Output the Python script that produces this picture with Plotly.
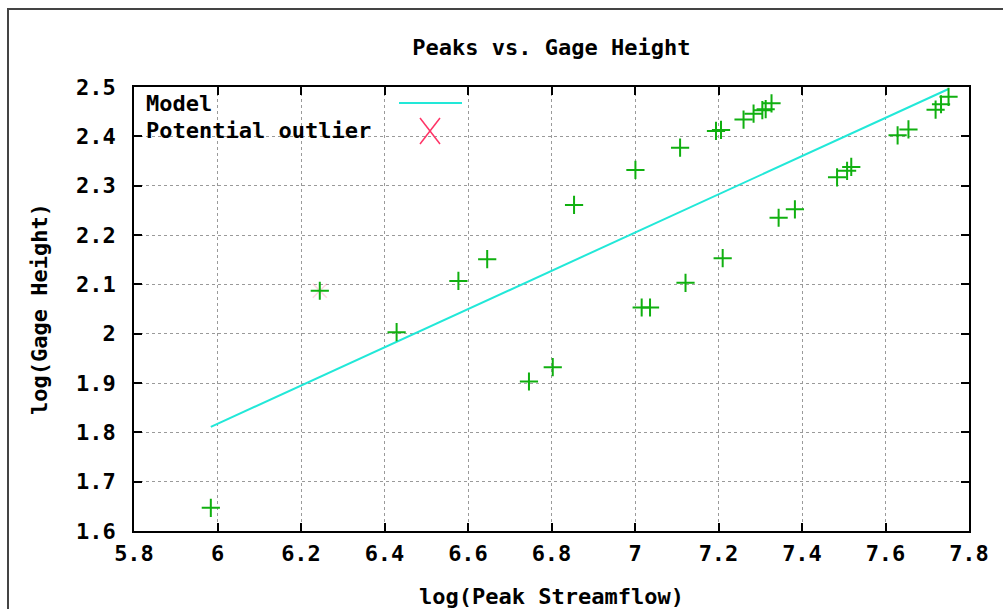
import plotly.graph_objects as go

peak_streamflow = [5.984, 6.245, 6.429, 6.577, 6.646, 6.746, 6.803, 6.854, 7.001, 7.016,
                   7.036, 7.108, 7.121, 7.194, 7.206, 7.210, 7.260, 7.284, 7.305, 7.313,
                   7.327, 7.344, 7.383, 7.484, 7.508, 7.518, 7.629, 7.655, 7.720, 7.733,
                   7.751]
gage_height = [1.647, 2.087, 2.003, 2.107, 2.151, 1.903, 1.932, 2.261, 2.332, 2.053,
               2.053, 2.377, 2.103, 2.411, 2.413, 2.153, 2.434, 2.446, 2.453, 2.455,
               2.467, 2.235, 2.252, 2.317, 2.330, 2.338, 2.402, 2.414, 2.454, 2.465,
               2.480]

# Fitted model line endpoints
model_x = [5.984, 7.751]
model_y = [1.811, 2.496]

# Potential outlier
outlier_x = [6.245]
outlier_y = [2.087]

x_ticks = [5.8, 6.0, 6.2, 6.4, 6.6, 6.8, 7.0, 7.2, 7.4, 7.6, 7.8]
x_tick_text = ["5.8", "6", "6.2", "6.4", "6.6", "6.8", "7", "7.2", "7.4", "7.6", "7.8"]
y_ticks = [1.6, 1.7, 1.8, 1.9, 2.0, 2.1, 2.2, 2.3, 2.4, 2.5]
y_tick_text = ["1.6", "1.7", "1.8", "1.9", "2", "2.1", "2.2", "2.3", "2.4", "2.5"]

FONT = "DejaVu Sans Mono"
fsize = 22

fig = go.Figure()
fig.add_trace(go.Scatter(x=outlier_x, y=outlier_y, mode="markers",
                         marker=dict(symbol="x-thin", size=14, line=dict(color="#ff3366", width=1.5)),
                         opacity=0.2, showlegend=False))
fig.add_trace(go.Scatter(x=model_x, y=model_y, mode="lines",
                         line=dict(color="#22e8d8", width=2), showlegend=False))
fig.add_trace(go.Scatter(x=peak_streamflow, y=gage_height, mode="markers",
                         marker=dict(symbol="cross-thin", size=13, line=dict(color="#10b010", width=2)),
                         showlegend=False))

ax_common = dict(showline=True, linecolor="black", linewidth=1.5, mirror="ticks",
                 ticks="inside", ticklen=8, tickcolor="black", tickwidth=1.5,
                 showgrid=True, gridcolor="#9a9a9a", griddash="dot", gridwidth=1,
                 zeroline=False, automargin=False,
                 tickfont=dict(family=FONT, size=fsize, color="black", weight="bold"))

fig.update_xaxes(range=[5.8, 7.8], tickvals=x_ticks, ticktext=x_tick_text,
                 ticklabelstandoff=2,
                 title=dict(text="log(Peak Streamflow)", standoff=26,
                            font=dict(family=FONT, size=fsize, color="black", weight="bold")),
                 **ax_common)
fig.update_yaxes(range=[1.6, 2.5], tickvals=y_ticks, ticktext=y_tick_text,
                 ticklabelstandoff=12,
                 title=dict(text="log(Gage Height)", standoff=22,
                            font=dict(family=FONT, size=fsize, color="black", weight="bold")),
                 **ax_common)

# Gnuplot-style legend (text on the left, sample on the right)
fig.add_annotation(xref="paper", yref="paper", x=0.012, y=0.962, xanchor="left", yanchor="middle",
                   text="Model", showarrow=False,
                   font=dict(family=FONT, size=fsize, color="black", weight="bold"))
fig.add_annotation(xref="paper", yref="paper", x=0.012, y=0.902, xanchor="left", yanchor="middle",
                   text="Potential outlier", showarrow=False,
                   font=dict(family=FONT, size=fsize, color="black", weight="bold"))
# legend samples (pixel-based in paper fraction)
L, R, T, B = 134, 969, 87, 531
def px(xp):
    return (xp - L) / (R - L)
def py(yp):
    return (B - yp) / (B - T)
fig.add_shape(type="line", xref="paper", yref="paper", x0=px(399), x1=px(462), y0=py(103), y1=py(103),
              line=dict(color="#22e8d8", width=2))
fig.add_shape(type="line", xref="paper", yref="paper", x0=px(420), x1=px(440), y0=py(118), y1=py(144),
              line=dict(color="#ff3366", width=1.5))
fig.add_shape(type="line", xref="paper", yref="paper", x0=px(420), x1=px(440), y0=py(144), y1=py(118),
              line=dict(color="#ff3366", width=1.5))

# Outer frame
fig.add_shape(type="rect", xref="paper", yref="paper", x0=px(8), x1=px(1012), y0=py(9), y1=py(620),
              line=dict(color="#444444", width=2), layer="below")

fig.update_layout(
    width=1003, height=609,
    margin=dict(l=L, r=1003 - R, t=T, b=609 - B),
    paper_bgcolor="white", plot_bgcolor="white",
    title=dict(text="Peaks vs. Gage Height", x=0.5498, xanchor="center", y=1 - 47 / 609, yanchor="middle",
               font=dict(family=FONT, size=fsize, color="black", weight="bold")),
    showlegend=False,
)

fig.write_html("out.html")
